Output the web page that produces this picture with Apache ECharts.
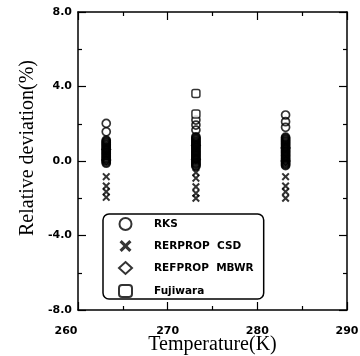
<!DOCTYPE html>
<html>
<head>
<meta charset="utf-8">
<script src="https://cdn.jsdelivr.net/npm/echarts@6/dist/echarts.min.js"></script>
<style>
  html, body { margin: 0; padding: 0; background: #fff; }
  #chart { width: 360px; height: 356px; }
</style>
</head>
<body>
<div id="chart"></div>
<script>
// Measurement temperatures (K)
const temps = [263.15, 273.15, 283.15];

// RKS relative deviations (%) at each temperature
const rks263 = [2.02, 1.57, 1.12, 1.07, 1.01, 0.96, 0.90, 0.86, 0.80, 0.74, 0.69, 0.64, 0.58, 0.53, 0.47, 0.42, 0.37, 0.31, 0.26, 0.20, 0.15, 0.10, 0.04, -0.01, -0.07, -0.12];
const rks273 = [2.20, 1.93, 1.66, 1.30, 1.25, 1.19, 1.14, 1.08, 1.03, 0.97, 0.92, 0.86, 0.80, 0.75, 0.70, 0.64, 0.58, 0.53, 0.48, 0.42, 0.36, 0.31, 0.26, 0.20, 0.14, 0.09, 0.04, -0.02, -0.08, -0.13, -0.18, -0.24, -0.28];
const rks283 = [2.47, 2.11, 1.81, 1.28, 1.23, 1.17, 1.12, 1.06, 1.01, 0.95, 0.90, 0.84, 0.78, 0.73, 0.68, 0.62, 0.56, 0.51, 0.46, 0.40, 0.34, 0.29, 0.24, 0.18, 0.12, 0.07, 0.02, -0.04, -0.10, -0.15, -0.20, -0.25];

// REFPROP CSD relative deviations (%)
const csd263 = [-0.84, -1.34, -1.65, -1.95];
const csd273 = [-0.62, -0.92, -1.38, -1.73, -2.00];
const csd283 = [-0.84, -1.34, -1.65, -2.00];

// REFPROP MBWR relative deviations (%)
const mbwr263 = [0.62, 0.05];
const mbwr273 = [0.85, 0.10];
const mbwr283 = [0.70, 0.00];

// Fujiwara relative deviations (%)
const fuji273 = [3.63, 2.52];

// Axis ticks
const xTicks = [260, 270, 280, 290];
const yTicks = [-8, -4, 0, 4, 8];

const seriesNames = ['RKS', 'RERPROP  CSD', 'REFPROP  MBWR', 'Fujiwara'];

function pairs(t, vals) { return vals.map(v => [t, v]); }

const rksData = [].concat(pairs(temps[0], rks263), pairs(temps[1], rks273), pairs(temps[2], rks283));
const csdData = [].concat(pairs(temps[0], csd263), pairs(temps[1], csd273), pairs(temps[2], csd283));
const mbwrData = [].concat(pairs(temps[0], mbwr263), pairs(temps[1], mbwr273), pairs(temps[2], mbwr283));
const fujiData = pairs(temps[1], fuji273);

// bold "x" marker outline
const crossPath = 'path://M0,1.8L1.8,0L5,3.2L8.2,0L10,1.8L6.8,5L10,8.2L8.2,10L5,6.8L1.8,10L0,8.2L3.2,5Z';

const labelFont = { fontFamily: 'DejaVu Sans', fontWeight: 'bold', fontSize: 11, color: '#000' };
const axisLineStyle = { color: '#000', width: 1.5 };

function baseAxis(extra) {
  return Object.assign({
    type: 'value',
    axisLine: { show: true, onZero: false, lineStyle: axisLineStyle },
    axisTick: { show: true, inside: true, length: 8, lineStyle: { color: '#000', width: 1.2 } },
    minorTick: { show: true, splitNumber: 2, length: 4, lineStyle: { color: '#000', width: 1.2 } },
    splitLine: { show: false },
    minorSplitLine: { show: false }
  }, extra);
}

const chart = echarts.init(document.getElementById('chart'), null, { renderer: 'canvas' });

chart.setOption({
  animation: false,
  backgroundColor: '#fff',
  grid: { left: 78, right: 13, top: 12, bottom: 46, containLabel: false, outerBoundsMode: 'none' },
  xAxis: [
    baseAxis({
      min: xTicks[0], max: xTicks[xTicks.length - 1], interval: 10,
      position: 'bottom',
      name: 'Temperature(K)',
      nameLocation: 'middle',
      nameGap: 25,
      nameMoveOverlap: false,
      nameTextStyle: { fontFamily: 'Liberation Serif', fontSize: 20, color: '#000' },
      axisLabel: Object.assign({
        margin: 16,
        formatter: v => v === xTicks[0] ? '{l|' + v + '}' : String(v),
        rich: { l: Object.assign({ padding: [0, 24, 0, 0] }, labelFont) }
      }, labelFont)
    }),
    baseAxis({
      min: xTicks[0], max: xTicks[xTicks.length - 1], interval: 10,
      position: 'top',
      axisLabel: { show: false }
    })
  ],
  yAxis: [
    baseAxis({
      min: yTicks[0], max: yTicks[yTicks.length - 1], interval: 4,
      position: 'left',
      name: 'Relative deviation(%)',
      nameLocation: 'middle',
      nameGap: 40,
      nameMoveOverlap: false,
      nameTextStyle: { fontFamily: 'Liberation Serif', fontSize: 20, color: '#000', padding: [0, 0, 0, 26] },
      axisLabel: Object.assign({ margin: 6, formatter: v => v.toFixed(1) }, labelFont)
    }),
    baseAxis({
      min: yTicks[0], max: yTicks[yTicks.length - 1], interval: 4,
      position: 'right',
      axisLabel: { show: false }
    })
  ],
  legend: {
    data: seriesNames,
    orient: 'vertical',
    left: 103,
    top: 214,
    padding: [3, 10, 1, 15],
    itemGap: 9,
    itemWidth: 13,
    itemHeight: 12,
    borderColor: '#000',
    borderWidth: 1.5,
    borderRadius: 6,
    textStyle: { fontFamily: 'DejaVu Sans', fontWeight: 'bold', fontSize: 10.5, color: '#000', padding: [0, 0, 0, 17] }
  },
  series: [
    {
      name: seriesNames[2], type: 'scatter', data: mbwrData,
      symbol: 'diamond', symbolSize: 9,
      itemStyle: { color: '#fff', borderColor: '#000', borderWidth: 1.2 }
    },
    {
      name: seriesNames[0], type: 'scatter', data: rksData,
      symbol: 'circle', symbolSize: 8,
      itemStyle: { color: 'rgba(255,255,255,0)', borderColor: '#000', borderWidth: 1.7 }
    },
    {
      name: seriesNames[1], type: 'scatter', data: csdData,
      symbol: crossPath, symbolSize: 8,
      itemStyle: { color: '#000' }
    },
    {
      name: seriesNames[3], type: 'scatter', data: fujiData,
      symbol: 'roundRect', symbolSize: 8,
      itemStyle: { color: '#fff', borderColor: '#000', borderWidth: 1.5 }
    }
  ]
});
</script>
</body>
</html>
